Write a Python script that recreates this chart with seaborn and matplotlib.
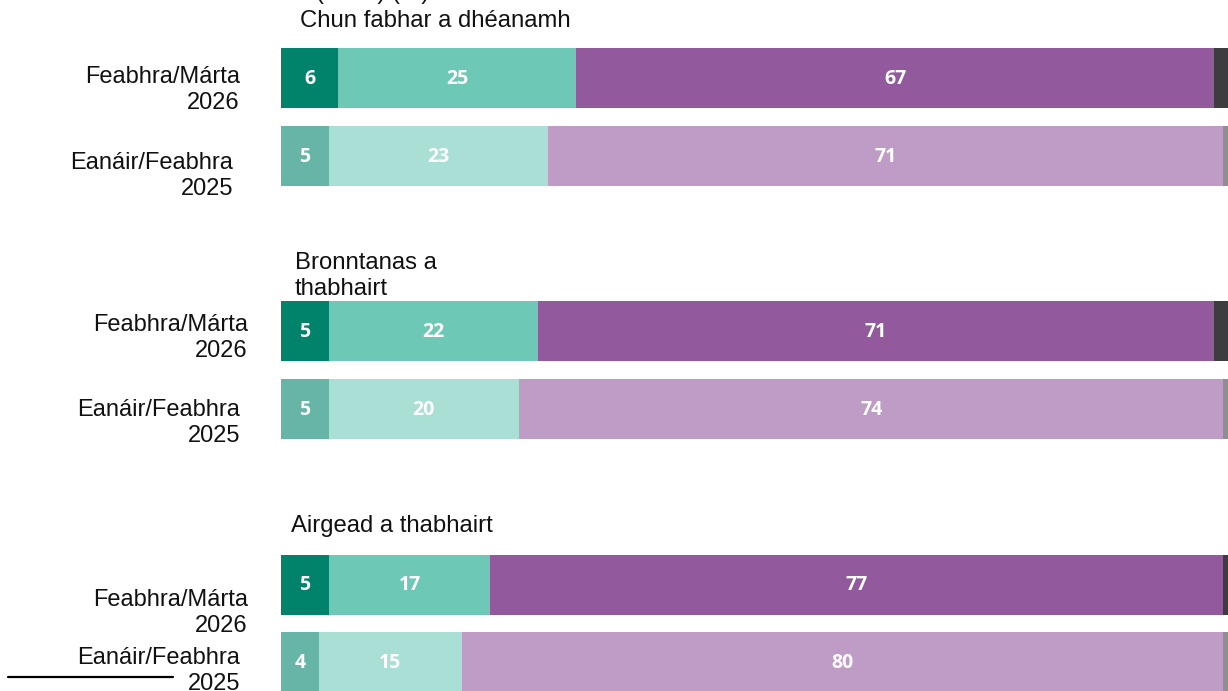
import numpy as np
import pandas as pd
import matplotlib
matplotlib.use("Agg")
import matplotlib.pyplot as plt
import seaborn as sns

# ---- data ----
groups = ["Chun fabhar a dhéanamh", "Bronntanas a\nthabhairt", "Airgead a thabhairt"]
periods = ["Feabhra/Márta\n2026", "Eanáir/Feabhra\n2025"]
seg1 = [6, 5, 5, 5, 5, 4]        # dark teal
seg2 = [25, 23, 22, 20, 17, 15]  # teal
seg3 = [67, 71, 71, 74, 77, 80]  # purple
seg4 = [2, 1, 2, 1, 1, 1]        # grey remainder

sns.set_theme(style="white")
plt.rcParams['font.family'] = ['Liberation Sans', 'DejaVu Sans']

W, H = 1228, 691
fig = plt.figure(figsize=(W / 100, H / 100), dpi=100)
ax = fig.add_axes([0, 0, 1, 1])

x0_px, ppu = 281, 9.52

# layout: bar centers (pixels)
ypos = [78, 156, 331, 409, 585, 662]
bar_h = 61
min_gap = 78

dark = ["#00826B", "#6DC8B6", "#925A9C", "#3D3C3F"]
light = ["#67B5A6", "#AADFD5", "#BF9CC6", "#8F8E90"]
row_cols = [dark, light, dark, light, dark, light]

df = pd.DataFrame({"y": ypos, "s1": seg1, "s2": seg2, "s3": seg3, "s4": seg4})
df["c1"] = df["s1"]
df["c2"] = df["c1"] + df["s2"]
df["c3"] = df["c2"] + df["s3"]
df["c4"] = df["c3"] + df["s4"]
df["row"] = [str(i) for i in range(len(df))]

for k in [4, 3, 2, 1]:
    pal = {str(i): row_cols[i][k - 1] for i in range(len(df))}
    sns.barplot(data=df, x=f"c{k}", y="y", hue="row", palette=pal, orient="h",
                native_scale=True, width=bar_h / min_gap, dodge=False,
                legend=False, ax=ax, linewidth=0, saturation=1)

ax.set_xlim(-x0_px / ppu, (W - x0_px) / ppu)
ax.set_ylim(H, 0)

# value labels
for i, r in df.iterrows():
    starts = [0, r["c1"], r["c2"]]
    vals = [r["s1"], r["s2"], r["s3"]]
    for s, v in zip(starts, vals):
        ax.text(s + v / 2, r["y"] + 0.5, f"{v}", ha="center", va="center",
                color="white", fontsize=14, fontweight="bold",
                family=["Open Sans", "DejaVu Sans"])

ax.axis("off")

def fpx(x, y):
    return x / W, 1 - y / H

# group titles
title_pos = [(300, 21), (295, 276), (291, 526)]
for g, (px, py) in zip(groups, title_pos):
    fig.text(*fpx(px, py), g, ha="left", va="center", fontsize=17.2,
             linespacing=1.25, color="#111111")

# row labels
label_pos = [(240, 90), (233, 176), (248, 338), (240, 423), (248, 613), (240, 671)]
for i, (px, py) in enumerate(label_pos):
    fig.text(*fpx(px, py), periods[i % 2], ha="right", va="center", fontsize=17,
             linespacing=1.25, color="#111111")

# cropped header line at the very top (only its lower edge is visible)
fig.text(*fpx(316, -1), "(2026) (%)", ha="left", va="baseline", fontsize=17.2,
         color="#111111")

# footnote separator line
fig.add_artist(plt.Line2D([8 / W, 173 / W], [1 - 677 / H, 1 - 677 / H],
                          color="black", linewidth=1.6, transform=fig.transFigure))

fig.savefig("out.png", dpi=100)
